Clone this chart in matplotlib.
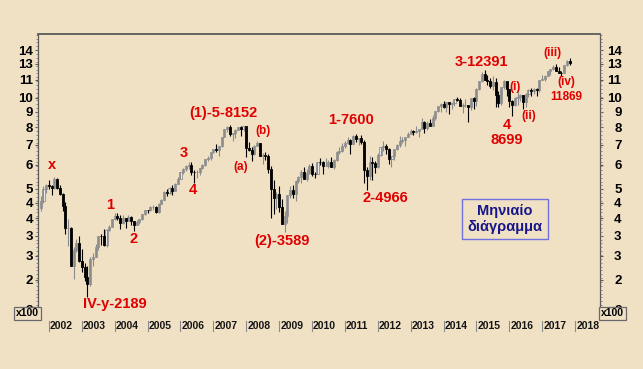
import numpy as np
import matplotlib.pyplot as plt
import matplotlib.transforms as mtransforms
from matplotlib.ticker import FixedLocator, NullFormatter

# ----------------------------
# Monthly data (index level / 1000), Oct 2001 .. Nov 2017
# month index 0 = Jan 2002
# ----------------------------
FIRST_MONTH = -3
FIRST_OPEN = 4.31

closes = [
    4.56, 5.00, 5.16,
    5.11, 5.04, 5.40, 5.04, 4.82, 4.38, 3.70, 3.71, 2.77, 3.15, 3.32, 2.89,
    2.75, 2.55, 2.42, 2.94, 2.98, 3.22, 3.49, 3.48, 3.26, 3.66, 3.75, 3.97,
    4.06, 4.02, 3.86, 3.99, 3.92, 4.05, 3.90, 3.79, 3.89, 3.96, 4.13, 4.26,
    4.25, 4.35, 4.35, 4.18, 4.46, 4.59, 4.89, 4.83, 5.04, 4.93, 5.19, 5.41,
    5.67, 5.80, 5.97, 6.01, 5.69, 5.68, 5.68, 5.86, 6.00, 6.27, 6.31, 6.60,
    6.79, 6.72, 6.92, 7.41, 7.88, 8.01, 7.58, 7.64, 7.86, 8.02, 7.87, 8.07,
    6.85, 6.75, 6.53, 6.95, 7.10, 6.42, 6.48, 6.42, 5.83, 4.99, 4.67, 4.81,
    4.34, 3.84, 4.08, 4.77, 4.94, 4.81, 5.33, 5.46, 5.68, 5.41, 5.63, 5.96,
    5.61, 5.60, 6.15, 6.14, 5.96, 5.97, 6.15, 5.93, 6.23, 6.60, 6.69, 6.91,
    7.08, 7.27, 7.04, 7.51, 7.29, 7.38, 7.16, 5.78, 5.50, 6.14, 6.09, 5.90,
    6.46, 6.86, 6.95, 6.76, 6.26, 6.42, 6.77, 6.97, 7.22, 7.26, 7.41, 7.61,
    7.78, 7.74, 7.80, 7.91, 8.35, 7.96, 8.28, 8.10, 8.59, 9.03, 9.41, 9.55,
    9.31, 9.69, 9.56, 9.60, 9.94, 9.83, 9.41, 9.47, 9.47, 9.33, 9.98, 9.81,
    10.69, 11.40, 11.97, 11.45, 11.41, 10.94, 11.31, 10.26, 9.66, 10.85, 11.38, 10.74,
    9.80, 9.50, 9.97, 10.04, 10.26, 9.68, 10.34, 10.59, 10.51, 10.67, 10.64, 11.48,
    11.54, 11.83, 12.31, 12.44, 12.62, 12.33, 12.12, 12.06, 12.83, 13.23, 13.02,
]

highs = [
    4.74, 5.10, 5.19,
    5.35, 5.16, 5.47, 5.42, 5.17, 4.84, 4.52, 3.96, 3.75, 3.20, 3.40, 3.48,
    3.16, 2.85, 2.78, 2.97, 3.07, 3.29, 3.50, 3.55, 3.68, 3.67, 3.81, 3.98,
    4.16, 4.15, 4.09, 4.10, 4.00, 4.10, 4.07, 3.90, 3.95, 3.98, 4.14, 4.27,
    4.27, 4.38, 4.43, 4.40, 4.50, 4.63, 4.91, 4.99, 5.08, 5.14, 5.22, 5.46,
    5.67, 5.87, 5.99, 6.14, 6.16, 5.76, 5.78, 5.88, 6.03, 6.28, 6.45, 6.64,
    6.80, 7.04, 6.94, 7.44, 7.89, 8.09, 8.15, 7.66, 7.87, 8.03, 8.08, 8.10,
    8.10, 7.15, 6.87, 6.99, 7.23, 7.12, 6.55, 6.60, 6.51, 5.95, 5.35, 4.87,
    5.11, 4.62, 4.22, 4.79, 5.10, 5.17, 5.34, 5.50, 5.76, 5.89, 5.81, 6.03,
    6.09, 5.67, 6.16, 6.34, 6.20, 6.34, 6.25, 6.39, 6.30, 6.67, 6.87, 7.08,
    7.18, 7.44, 7.32, 7.53, 7.60, 7.38, 7.52, 7.24, 5.93, 6.43, 6.40, 6.17,
    6.55, 6.88, 7.19, 7.06, 6.83, 6.45, 6.78, 7.05, 7.48, 7.40, 7.42, 7.69,
    7.87, 7.83, 8.06, 7.91, 8.56, 8.42, 8.41, 8.49, 8.77, 9.05, 9.41, 9.60,
    9.79, 9.73, 9.71, 9.68, 9.94, 10.05, 10.03, 9.61, 9.89, 9.48, 9.99, 10.09,
    10.81, 11.40, 12.22, 12.39, 11.92, 11.64, 11.80, 11.67, 10.54, 10.85, 11.43, 11.29,
    10.49, 9.88, 10.11, 10.49, 10.33, 10.20, 10.39, 10.70, 10.80, 10.83, 10.80, 11.49,
    11.89, 11.96, 12.31, 12.48, 12.84, 12.95, 12.68, 12.33, 12.85, 13.33, 13.53,
]

lows = [
    4.24, 4.50, 4.86,
    4.98, 4.77, 4.99, 4.98, 4.77, 4.22, 3.54, 3.23, 2.77, 2.52, 3.08, 2.86,
    2.65, 2.47, 2.19, 2.38, 2.78, 2.97, 3.15, 3.27, 3.23, 3.21, 3.64, 3.73,
    3.93, 3.95, 3.69, 3.84, 3.72, 3.92, 3.80, 3.62, 3.79, 3.84, 3.95, 4.11,
    4.15, 4.23, 4.27, 4.16, 4.15, 4.44, 4.59, 4.75, 4.82, 4.78, 4.91, 5.18,
    5.38, 5.60, 5.75, 5.84, 5.56, 5.24, 5.45, 5.55, 5.82, 5.95, 6.18, 6.25,
    6.56, 6.64, 6.44, 6.90, 7.40, 7.69, 7.46, 7.19, 7.36, 7.81, 7.51, 7.80,
    6.38, 6.67, 6.17, 6.48, 6.91, 6.41, 6.05, 6.25, 5.66, 4.01, 4.13, 4.28,
    4.20, 3.82, 3.59, 3.86, 4.67, 4.67, 4.57, 5.22, 5.23, 5.40, 5.32, 5.59,
    5.53, 5.43, 5.60, 6.01, 5.61, 5.95, 5.88, 5.93, 5.81, 6.18, 6.54, 6.65,
    6.85, 7.05, 6.51, 7.02, 7.15, 6.98, 7.04, 5.25, 4.97, 5.36, 5.37, 5.64,
    5.85, 6.43, 6.69, 6.52, 6.06, 5.91, 6.23, 6.75, 6.90, 7.10, 6.95, 7.40,
    7.59, 7.54, 7.66, 7.42, 7.89, 7.66, 7.84, 8.10, 8.06, 8.48, 9.02, 9.02,
    9.25, 9.02, 8.87, 9.17, 9.41, 9.80, 9.41, 8.90, 9.35, 8.35, 9.10, 9.22,
    9.38, 10.60, 11.30, 11.45, 11.07, 10.83, 10.64, 9.34, 9.32, 9.45, 10.71, 10.12,
    9.31, 8.70, 9.41, 9.48, 9.74, 9.21, 9.36, 10.10, 10.17, 10.32, 10.17, 10.46,
    11.43, 11.38, 11.85, 11.93, 12.40, 12.33, 12.06, 11.87, 12.06, 12.76, 12.82,
]

years = list(range(2002, 2019))

ytick_values = [14.4, 13, 11.5, 10, 9, 8, 7, 6, 5, 4.5, 4, 3.5, 3, 2.5, 2]
ytick_labels = ["14", "13", "11", "10", "9", "8", "7", "6", "5",
                "4", "4", "3", "3", "2", "2"]

# wave labels: text, month index, level, size
wave_labels = [
    ("x", 1.1, 6.0, 10.5),
    ("1", 22.3, 4.42, 10.5),
    ("2", 31.0, 3.41, 10.5),
    ("IV-y-2189", 24.1, 2.08, 10.5),
    ("3", 49.3, 6.58, 10.5),
    ("4", 52.6, 4.96, 10.5),
    ("(1)-5-8152", 63.5, 8.92, 10.5),
    ("(b)", 78.1, 7.78, 8.5),
    ("(a)", 70.1, 5.91, 8.5),
    ("(2)-3589", 85.0, 3.36, 10.5),
    ("1-7600", 110.2, 8.45, 10.5),
    ("2-4966", 122.6, 4.67, 10.5),
    ("3-12391", 157.7, 13.15, 10.5),
    ("(i)", 170.1, 10.87, 8.5),
    ("4", 167.2, 8.14, 10.5),
    ("8699", 167.2, 7.26, 10.5),
    ("(ii)", 175.2, 8.72, 8.5),
    ("(iii)", 183.6, 14.09, 8.5),
    ("(iv)", 188.7, 11.30, 8.5),
    ("11869", 188.7, 10.08, 8.5),
]

BG = "#F0E1C5"
RED = "#E00000"
FONT = "Liberation Sans"


def main():
    close = np.array(closes)
    high = np.array(highs)
    low = np.array(lows)
    opn = np.r_[FIRST_OPEN, close[:-1]]
    m = np.arange(len(close)) + FIRST_MONTH
    up = close >= opn

    fig = plt.figure(figsize=(6.43, 3.69), dpi=100)
    fig.patch.set_facecolor(BG)
    W, H = 643, 369
    ax = fig.add_axes([38 / W, 1 - 310 / H, 562 / W, 276 / H])
    ax.set_facecolor(BG)
    ax.set_yscale("log")

    # candles
    ax.vlines(m[up], low[up], high[up], color="#8C8C8C", lw=0.8)
    ax.vlines(m[~up], low[~up], high[~up], color="black", lw=0.8)
    bottoms = np.minimum(opn, close)
    heights = np.maximum(np.abs(close - opn), 0.01)
    ax.bar(m[up], heights[up], bottom=bottoms[up], width=0.75,
           color="#F2F2F2", edgecolor="#8C8C8C", lw=0.6)
    ax.bar(m[~up], heights[~up], bottom=bottoms[~up], width=0.75,
           color="black", edgecolor="black", lw=0.6)

    ax.set_xlim(-4.0, 201.1)
    ax.set_ylim(1.986, 16.29)

    # spines
    ax.spines["bottom"].set_visible(False)
    ax.spines["top"].set_color("#5A5A5A")
    ax.spines["top"].set_linewidth(1.3)
    for s in ("left", "right"):
        ax.spines[s].set_color("#5A5A5A")
        ax.spines[s].set_linewidth(0.9)

    # y ticks both sides
    minor = np.geomspace(2.0, 16.2, 72)
    ax.set_xticks([])
    ax.yaxis.set_major_locator(FixedLocator(ytick_values))
    ax.yaxis.set_minor_locator(FixedLocator(minor))
    ax.yaxis.set_minor_formatter(NullFormatter())
    ax.set_yticklabels(ytick_labels, fontsize=9.5, fontweight="bold", family=FONT)
    ax.tick_params(axis="y", which="major", length=2.5, width=0.8,
                   color="#5A5A5A", pad=1.2)
    ax.tick_params(axis="y", which="minor", length=1.6, width=0.6,
                   color="#7A7A7A")

    ax2 = ax.twinx()
    ax2.set_yscale("log")
    ax2.set_ylim(ax.get_ylim())
    ax2.yaxis.set_major_locator(FixedLocator(ytick_values))
    ax2.yaxis.set_minor_locator(FixedLocator(minor))
    ax2.yaxis.set_minor_formatter(NullFormatter())
    ax2.set_yticklabels(ytick_labels, fontsize=9.5, fontweight="bold", family=FONT)
    for lab in ax2.get_yticklabels():
        lab.set_horizontalalignment("right")
    ax2.tick_params(axis="y", which="major", length=2.5, width=0.8,
                    color="#5A5A5A", pad=13)
    ax2.tick_params(axis="y", which="minor", length=1.6, width=0.6,
                    color="#7A7A7A")
    for s in ax2.spines.values():
        s.set_visible(False)

    # year labels
    trans = mtransforms.blended_transform_factory(ax.transData, ax.transAxes)
    for i, yr in enumerate(years):
        xm = i * 12
        ax.plot([xm, xm], [-0.040, -0.076], color="#8C8C8C", lw=0.8,
                transform=trans, clip_on=False)
        ax.text(xm + 0.4, -0.058, str(yr), transform=trans, ha="left",
                va="center", fontsize=7.5, fontweight="bold", family=FONT,
                color="#151515")

    # wave counts
    for txt, xm, lv, fs in wave_labels:
        ax.text(xm, lv, txt, color=RED, fontsize=fs, fontweight="bold",
                family=FONT, ha="center", va="center")

    # info box
    ax.text(166.4, 3.98, "Μηνιαίο\nδιάγραμμα", color="#16168A", fontsize=10.5,
            fontweight="bold", family=FONT, ha="center", va="center",
            linespacing=1.15,
            bbox=dict(boxstyle="square,pad=0.35", fc="none", ec="#7070E0",
                      lw=1.0))

    # x100 boxes (drawn over the lowest tick label, as in the original)
    for xp in (16, 601):
        fig.text(xp / W, 1 - 313.5 / H, "x100", fontsize=7.5,
                 fontweight="bold", family=FONT, ha="left", va="center",
                 color="black", zorder=10,
                 bbox=dict(boxstyle="square,pad=0.15", fc=BG, ec="#6A6A6A",
                           lw=0.9))

    fig.savefig("out.png", dpi=100, facecolor=BG)


if __name__ == "__main__":
    main()
